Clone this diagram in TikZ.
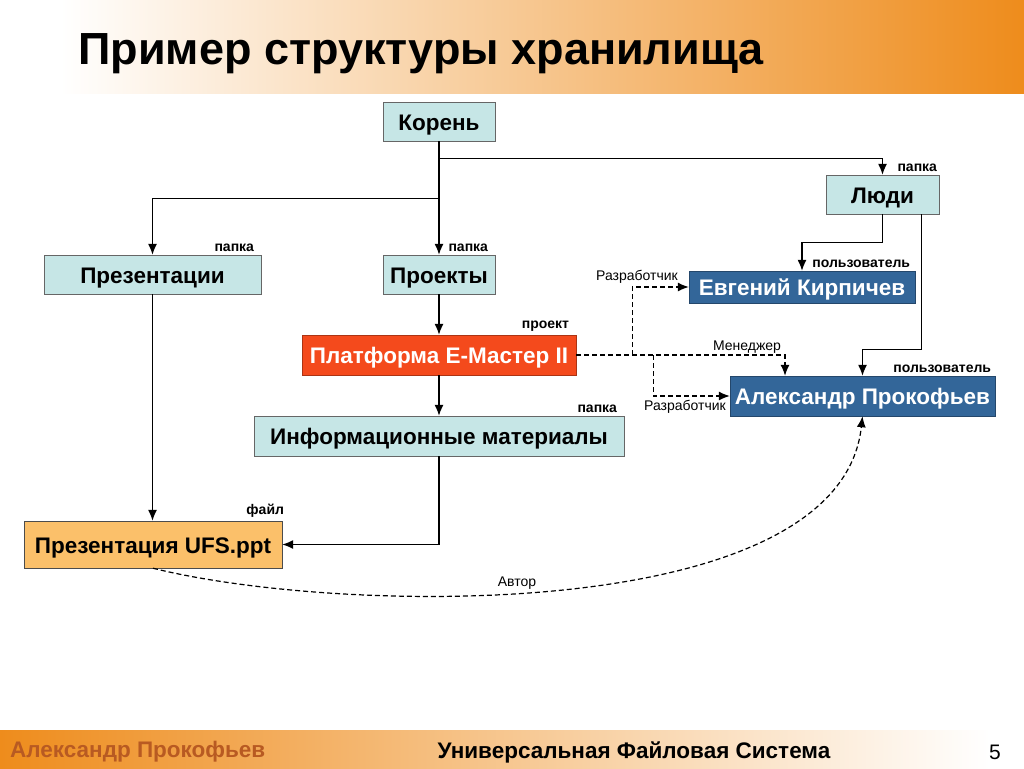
\documentclass[tikz,border=0pt]{standalone}
\usepackage{fontspec}
\setmainfont{Liberation Sans}
\usetikzlibrary{positioning, arrows.meta, calc}

\definecolor{folderfill}{HTML}{C6E6E6}
\definecolor{userfill}{HTML}{336699}
\definecolor{projfill}{HTML}{F44A1C}
\definecolor{filefill}{HTML}{FBC06A}
\definecolor{hdrorange}{HTML}{EE8C1C}
\definecolor{ftrtext}{HTML}{B85A22}

\begin{document}
\begin{tikzpicture}[x=1pt, y=-1pt, >={Latex[length=11pt,width=9pt]},
  box/.style={draw=gray!80!black, fill=folderfill, minimum height=39pt, inner sep=0pt,
    text height=17.5pt, text depth=0pt, font=\fontsize{22.5}{26}\selectfont\bfseries},
  userbox/.style={box, draw=userfill!70!black, fill=userfill, text=white},
  projbox/.style={box, draw=projfill!70!black, fill=projfill, text=white},
  filebox/.style={box, draw=gray!60!black, fill=filefill},
  kind/.style={font=\fontsize{14}{16}\selectfont\bfseries, inner sep=1pt, anchor=south east},
  role/.style={font=\fontsize{14}{16}\selectfont, inner sep=1pt},
  link/.style={->, line width=1.3pt},
  rel/.style={->, line width=1.2pt, dashed, dash pattern=on 5pt off 3pt}]

  % background, header and footer
  \useasboundingbox (0,0) rectangle (1024,768);
  \fill[white] (0,0) rectangle (1024,768);
  \shade[left color=white, right color=hdrorange] (60,0) rectangle (1024,93);
  \shade[left color=hdrorange, right color=white] (0,730) rectangle (990,768);
  \node[anchor=west, inner sep=0pt, font=\fontsize{45}{50}\selectfont\bfseries] (title) at (78,54) {Пример структуры хранилища};
  \node[anchor=west, inner sep=0pt, text=ftrtext, font=\fontsize{22.5}{26}\selectfont\bfseries] (author) at (10,752) {Александр Прокофьев};
  \node[inner sep=0pt, font=\fontsize{22.5}{26}\selectfont\bfseries] (system) at (634,752) {Универсальная Файловая Система};
  \node[inner sep=0pt, font=\fontsize{21}{24}\selectfont] (page) at (995,752) {5};

  % nodes
  \node[box, minimum width=112pt] (koren) at (439,121.5) {Корень};
  \node[box, minimum width=113pt] (ludi) at (882.5,194.5) {Люди};
  \node[box, minimum width=217pt] (prez) at (152.5,274.5) {Презентации};
  \node[box, minimum width=112pt] (proekty) at (439,274.5) {Проекты};
  \node[userbox, minimum width=226pt, minimum height=32pt] (kirpichev) at (802,287) {Евгений Кирпичев};
  \node[projbox, minimum width=274pt, minimum height=40pt] (platforma) at (439,355) {Платформа Е-Мастер II};
  \node[userbox, minimum width=265pt, minimum height=40pt] (prokofiev) at (862.5,396) {Александр Прокофьев};
  \node[box, minimum width=370pt, minimum height=40pt] (infmat) at (439,436) {Информационные материалы};
  \node[filebox, minimum width=258pt, minimum height=47pt] (ufs) at (153,544.5) {Презентация UFS.ppt};

  % kind labels
  \node[kind] (k1) at ([xshift=-1pt,yshift=2pt]ludi.north east) {папка};
  \node[kind] (k2) at ([xshift=-6pt,yshift=2pt]prez.north east) {папка};
  \node[kind] (k3) at ([xshift=-6pt,yshift=2pt]proekty.north east) {папка};
  \node[kind] (k4) at ([xshift=-4pt,yshift=2pt]kirpichev.north east) {пользователь};
  \node[kind] (k5) at ([xshift=-6pt,yshift=2pt]platforma.north east) {проект};
  \node[kind] (k6) at ([xshift=-3pt,yshift=2pt]prokofiev.north east) {пользователь};
  \node[kind] (k7) at ([xshift=-6pt,yshift=2pt]infmat.north east) {папка};
  \node[kind] (k8) at ([xshift=3pt,yshift=2pt]ufs.north east) {файл};

  % tree links
  \coordinate (j1) at ($(koren.south)+(0,17)$);
  \coordinate (j2) at ($(koren.south)+(0,57)$);
  \draw[link] (koren.south) -- (proekty.north);
  \draw[link] (j1) -| (ludi.north);
  \draw[link] (j2) -| (prez.north);
  \draw[link] (proekty) -- (platforma);
  \draw[link] (platforma) -- (infmat);
  \draw[link] (prez.south) -- (ufs.north -| prez.south);
  \draw[link] (infmat.south) |- (ufs.east);
  \draw[link] (ludi.south) -- ++(0,28) -| (kirpichev.north);
  \draw[link] ([xshift=-18pt]ludi.south east) -- ++(0,135) -| (prokofiev.north);

  % roles
  \coordinate (d1) at ($(platforma.east)+(56,0)$);
  \coordinate (d2) at ($(platforma.east)+(77,0)$);
  \draw[rel] (platforma.east) -| ([xshift=-77.5pt]prokofiev.north);
  \draw[rel] (d1) |- (kirpichev.west);
  \draw[rel] (d2) |- (prokofiev.west);
  \draw[rel] (ufs.south) .. controls (340,615) and (840,625) .. (prokofiev.south);
  \node[role] (r1) at (637,277) {Разработчик};
  \node[role] (r2) at (747,347) {Менеджер};
  \node[role] (r3) at (685,407) {Разработчик};
  \node[role] (r4) at (517,583) {Автор};
\end{tikzpicture}
\end{document}
